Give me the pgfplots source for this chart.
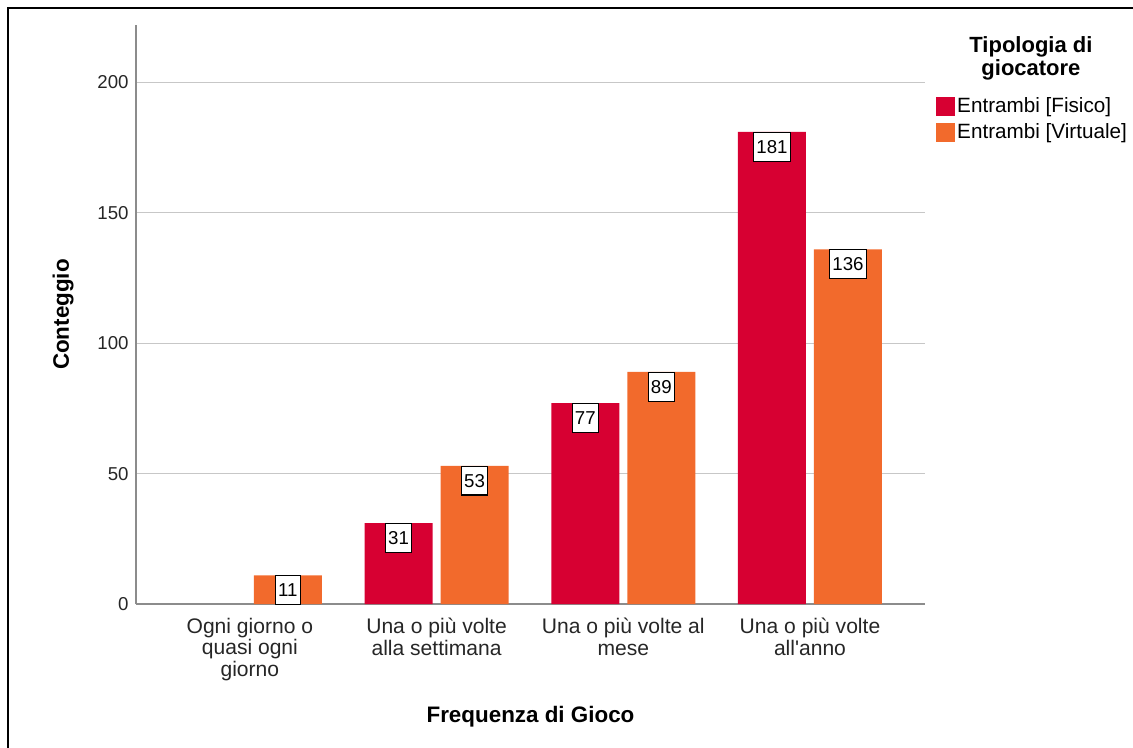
\documentclass[border=0pt]{standalone}
\usepackage{fontspec}
\setmainfont{Liberation Sans}[Ligatures=TeXOff]
\usepackage{pgfplots}
\pgfplotsset{compat=1.18}
\definecolor{cred}{HTML}{D70032}
\definecolor{corange}{HTML}{F26A2C}
\begin{document}
\begin{tikzpicture}
\useasboundingbox (-102pt,-107.25pt) rectangle (747.75pt,453pt);
\draw[line width=1.5pt] (-96pt,-130pt) -- (-96pt,447pt) -- (770pt,447pt);
\begin{axis}[
  scale only axis, width=591.75pt, height=434.25pt,
  xmin=-0.61, xmax=3.616, ymin=0, ymax=222,
  clip=false,
  axis x line*=bottom, axis y line*=left,
  axis line style={draw=black!45, line width=1pt},
  ymajorgrids, grid style={draw=black!22, line width=0.9pt},
  ytick={0,50,100,150,200}, xtick={0,1,2,3},
  xticklabels={{Ogni giorno o\\quasi ogni\\giorno},{Una o più volte\\alla settimana},{Una o più volte al\\mese},{Una o più volte\\all'anno}},
  major tick length=0pt,
  /pgf/number format/assume math mode=true,
  tick label style={text=black!85},
  yticklabel style={xshift=-2pt, font=\fontsize{14}{16}\selectfont},
  xticklabel style={align=center, yshift=-7pt, font=\fontsize{15.8}{16.2}\selectfont},
  ylabel={Conteggio}, xlabel={Frequenza di Gioco},
  label style={font=\bfseries\fontsize{16.8}{18}\selectfont},
  ylabel style={at={(rel axis cs:-0.0925,0.5)}, anchor=center},
  xlabel style={at={(rel axis cs:0.5,-0.195)}, anchor=center},
  ybar=6pt, bar width=51pt,
  nodes near coords,
  every node near coord/.append style={anchor=north, fill=white, draw=black, line width=0.8pt,
     font=\fontsize{14}{16}\selectfont, inner xsep=2pt, inner ysep=0pt, minimum height=21.5pt},
  legend style={at={(rel axis cs:1.0139,0.8826)}, anchor=north west, draw=none, fill=none,
     font=\fontsize{15.5}{16}\selectfont, inner sep=0pt, row sep=0pt,
     nodes={inner xsep=1.5pt, inner ysep=0pt, minimum height=19.5pt}},
  legend cell align=left,
  legend image code/.code={\fill[#1] (0pt,-7.1pt) rectangle (14.25pt,7.1pt);},
]
\addplot[fill=cred, draw=none] coordinates {(1,31) (2,77) (3,181)};
\addplot[fill=corange, draw=none] coordinates {(0,11) (1,53) (2,89) (3,136)};
\legend{Entrambi [Fisico], Entrambi [Virtuale]}
\node[font=\bfseries\fontsize{16.5}{17.2}\selectfont, align=center] at (rel axis cs:1.1343,0.942) {Tipologia di\\giocatore};
\end{axis}
\end{tikzpicture}
\end{document}
